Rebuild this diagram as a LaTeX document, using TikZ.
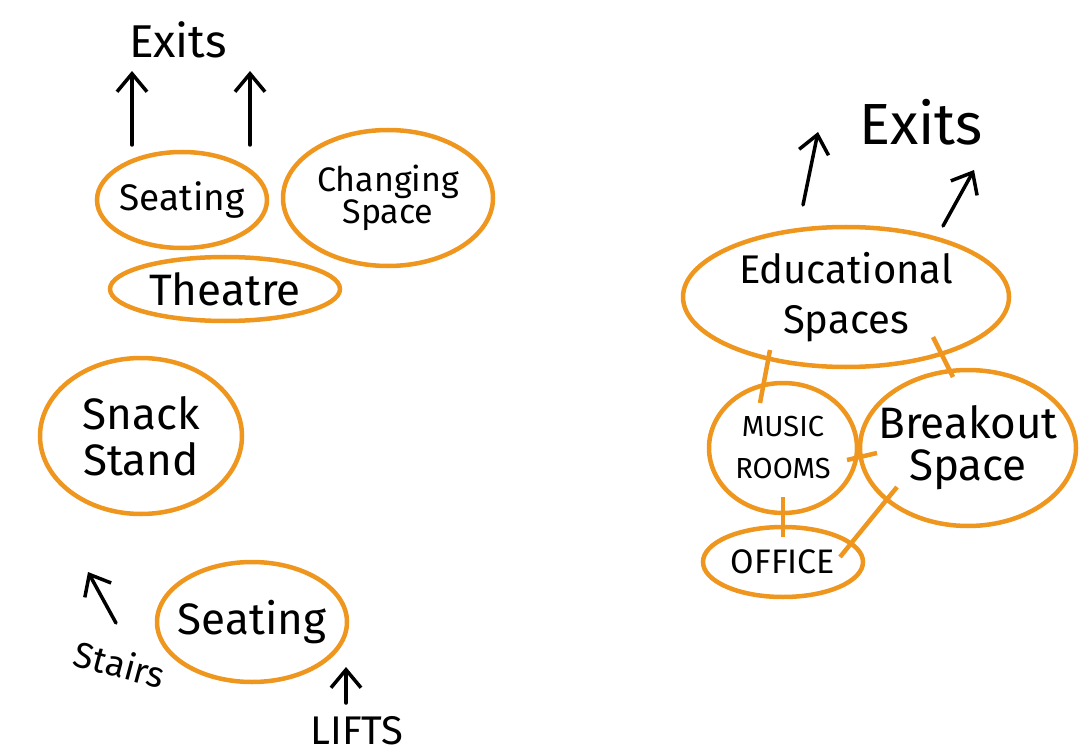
\documentclass[tikz,border=0pt]{standalone}
\usepackage{fontspec}
\setmainfont{Fira Sans}
\usetikzlibrary{shapes.geometric,arrows.meta,calc}
\definecolor{orng}{RGB}{238,150,30}
\newcommand{\fs}[2]{\fontsize{#1}{#2}\selectfont}
\tikzset{
  room/.style={ellipse,draw=orng,line width=4.5pt,inner sep=-20pt,align=center},
  lbl/.style={inner sep=0pt,align=center},
  exitarrow/.style={-{Straight Barb[length=18pt,width=30pt,line width=3.5pt]},line width=3.5pt,black,line cap=round},
  link/.style={orng,line width=4.5pt}
}
\begin{document}
\begin{tikzpicture}[x=1pt,y=-1pt]
\useasboundingbox (0,0) rectangle (1087,754);
% left side
\node[room,minimum width=170pt,minimum height=96pt,font=\fs{37}{36}] (seat1) at (182,200) {Seating};
\node[room,minimum width=210pt,minimum height=136pt,font=\fs{34}{32}] (change) at (388,198) {Changing\\Space};
\node[room,minimum width=230pt,minimum height=64pt,font=\fs{44}{44}] (theatre) at (225,289) {Theatre};
\node[lbl,font=\fs{46}{46}] (exits1) at (178,40) {Exits};
\coordinate (a1) at (132,145);
\coordinate (a2) at (250,145);
\draw[exitarrow] (a1) -- ++(0,-74);
\draw[exitarrow] (a2) -- ++(0,-74);
\node[room,minimum width=202pt,minimum height=156pt,font=\fs{44}{46}] (snack) at (141,436) {Snack\\Stand};
\node[room,minimum width=190pt,minimum height=120pt,font=\fs{44}{44}] (seat2) at (252,622) {Seating};
\node[lbl,font=\fs{36}{36},rotate=-15] (stairs) at (120,664) {Stairs};
\coordinate (s1) at (116,623);
\coordinate (s2) at (88,572);
\draw[exitarrow] (s1) -- (s2);
\node[lbl,font=\fs{40}{40}] (lifts) at (357,731) {LIFTS};
\coordinate (l1) at (346,703);
\draw[exitarrow] (l1) -- ++(0,-36);
% right side
\node[room,minimum width=326pt,minimum height=140pt,font=\fs{40}{50}] (edu) at (846,297) {Educational\\Spaces};
\node[lbl,font=\fs{58}{58}] (exits2) at (921,122) {Exits};
\coordinate (b1) at (803,205);
\coordinate (b2) at (943,226);
\draw[exitarrow] (b1) -- (818,132);
\draw[exitarrow] (b2) -- (974,170);
\node[room,minimum width=148pt,minimum height=130pt,font=\fs{29}{42}] (music) at (783,448) {MUSIC\\ROOMS};
\node[room,minimum width=216pt,minimum height=156pt,font=\fs{44}{42}] (break) at (968,448) {Breakout\\Space};
\node[room,minimum width=160pt,minimum height=70pt,font=\fs{34}{34}] (office) at (783,562) {OFFICE};
\draw[link] ($(edu.center)+(-76,53)$) -- ($(music.center)+(-23,-45)$);
\draw[link] ($(edu.center)+(87,40)$) -- ($(break.center)+(-15,-71)$);
\draw[link] ($(break.center)+(-91,5)$) -- ($(music.center)+(64,12)$);
\draw[link] ($(music.center)+(0,49)$) -- ($(office.center)+(0,-25)$);
\draw[link] ($(break.center)+(-71,39)$) -- ($(office.center)+(57,-5)$);
\end{tikzpicture}
\end{document}
